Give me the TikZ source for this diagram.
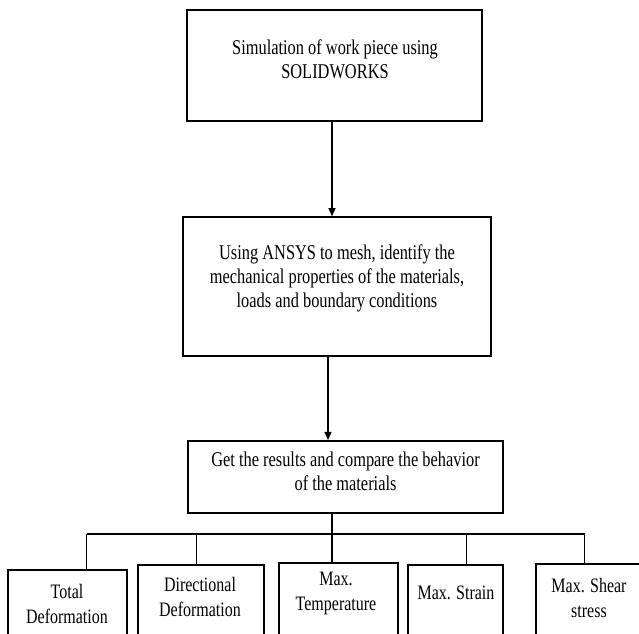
\documentclass[tikz,border=0pt]{standalone}
\usepackage{fontspec}
\setmainfont{Liberation Serif}[FakeStretch=0.78]
\usetikzlibrary{arrows.meta}
\begin{document}
\begin{tikzpicture}[x=1pt,y=-1pt,
  box/.style={draw=black,line width=1.6pt,rectangle,inner sep=0pt},
  txt/.style={align=center,font=\fontsize{21}{24}\selectfont,inner sep=0pt},
  stxt/.style={align=center,font=\fontsize{20.5}{25}\selectfont,inner sep=0pt},
  conn/.style={line width=1.2pt},
  arr/.style={conn,-{Triangle[length=8pt,width=7pt]}}]
\useasboundingbox (0,0) rectangle (639,633);
\clip (0,0) rectangle (639,633);
\fill[white] (0,0) rectangle (639,633);

% main boxes
\node[box,line width=2pt,minimum width=295pt,minimum height=111pt] (b1) at (334.5,65.5) {};
\node[txt] (t1) at (335,59) {Simulation of work piece using\\SOLIDWORKS};

\node[box,minimum width=308pt,minimum height=139pt] (b2) at (337,286.5) {};
\node[txt] (t2) at (337,278) {Using ANSYS to mesh, identify the\\mechanical properties of the materials,\\loads and boundary conditions};

\node[box,minimum width=315pt,minimum height=72.5pt] (b3) at (345.5,477) {};
\node[txt] (t3) at (345.5,471) {Get the results and compare the behavior\\of the materials};

% arrows
\coordinate (a1) at (332,0);
\coordinate (a2) at (328,0);
\draw[arr] (b1.south -| a1) -- (b2.north -| a1);
\draw[arr] (b2.south -| a2) -- (b3.north -| a2);

% bottom boxes
\node[box,anchor=north,minimum width=119pt,minimum height=90pt] (c1) at (67.5,569) {};
\node[box,anchor=north,minimum width=126pt,minimum height=95pt] (c2) at (201,564) {};
\node[box,anchor=north,minimum width=119pt,minimum height=97pt] (c3) at (338.5,562) {};
\node[box,anchor=north,minimum width=95pt,minimum height=95pt] (c4) at (455.5,564) {};
\node[box,anchor=north,minimum width=124pt,minimum height=96pt] (c5) at (598,563) {};

\node[stxt] (d1) at (67,604) {Total\\Deformation};
\node[stxt] (d2) at (200,596.5) {Directional\\Deformation};
\node[stxt] (d3) at (336,593) {Max.\\Temperature};
\node[stxt] (d4) at (456,593) {Max. Strain};
\node[stxt] (d5) at (589,597.5) {Max. Shear\\stress};

% bus
\coordinate (s1) at (86.7,534);
\coordinate (s2) at (196.7,534);
\coordinate (s3) at (332,534);
\coordinate (s4) at (466.7,534);
\coordinate (s5) at (584.7,534);
\draw[conn] (s1) -- (s5);
\draw[conn] (b3.south -| s3) -- (s3);
\draw[conn] (s1) -- (s1 |- c1.north);
\draw[conn] (s2) -- (s2 |- c2.north);
\draw[conn] (s3) -- (s3 |- c3.north);
\draw[conn] (s4) -- (s4 |- c4.north);
\draw[conn] (s5) -- (s5 |- c5.north);
\end{tikzpicture}
\end{document}
